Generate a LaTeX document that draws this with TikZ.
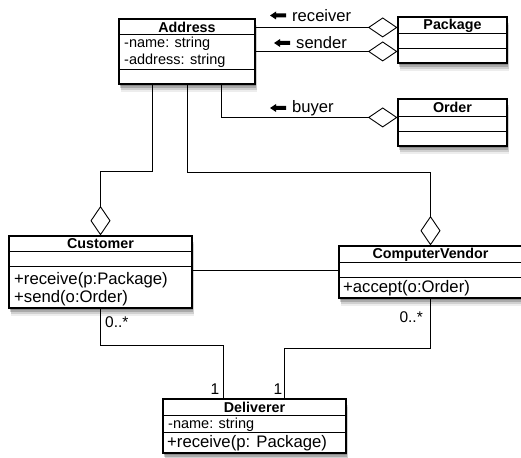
\documentclass[tikz,border=0pt]{standalone}
\usepackage{fontspec}
\setmainfont{Liberation Sans}
\usetikzlibrary{calc,arrows.meta,shadows}

\tikzset{
  softshadow/.style={
    drop shadow={shadow xshift=0.5pt, shadow yshift=-2pt, opacity=0.18, fill=black},
    drop shadow={shadow xshift=1pt, shadow yshift=-4pt, opacity=0.18, fill=black},
    drop shadow={shadow xshift=1.5pt, shadow yshift=-6pt, opacity=0.12, fill=black},
    drop shadow={shadow xshift=2pt, shadow yshift=-8pt, opacity=0.07, fill=black}},
  classbox/.style={draw, line width=1.1pt, fill=white, inner sep=0pt, softshadow},
  sepline/.style={line width=1.1pt},
  conn/.style={line width=0.9pt},
  aggr/.style={conn, -{Diamond[open, length=29.5pt, width=20pt, line width=0.9pt]}},
  title/.style={inner sep=0pt, font=\fontsize{14.3}{16}\selectfont\bfseries},
  attr/.style={inner sep=0pt, anchor=west, font=\fontsize{14.5}{16}\selectfont},
  oper/.style={inner sep=0pt, anchor=west, font=\fontsize{16.7}{18}\selectfont},
  role/.style={inner sep=0pt, anchor=west, font=\fontsize{16.6}{18}\selectfont},
  mult/.style={inner sep=0pt, font=\fontsize{15.5}{17}\selectfont},
}

% horizontal compartment separator at a given depth below the top edge
\newcommand\classsep[2]{\draw[sepline] ($(#1.north west)+(0,#2)$) -- ($(#1.north east)+(0,#2)$);}
% small black arrow drawn left of a role label
\newcommand\rolearrow[1]{\fill ($(#1.west)+(-22,0)$) -- ++(6,-4) -- ++(0,2) -- ++(10,0) -- ++(0,4) -- ++(-10,0) -- ++(0,2) -- cycle;}

\begin{document}
\begin{tikzpicture}[x=1pt, y=-1pt]
\useasboundingbox[fill=white] (0,0) rectangle (521,457);

% ---- classes ----
\node[classbox, minimum width=136pt, minimum height=65pt] (addr) at (187,51.5) {};
\classsep{addr}{16}
\classsep{addr}{51}
\node[title] at ($(addr.north)+(0,8.5)$) {Address};
\node[attr] at (124,44) {-name: string};
\node[attr] at (124,61) {-address: string};

\node[classbox, minimum width=109pt, minimum height=46pt] (pkg) at (452.5,40) {};
\classsep{pkg}{17}
\classsep{pkg}{32}
\node[title] at ($(pkg.north)+(0,9)$) {Package};

\node[classbox, minimum width=109pt, minimum height=47pt] (ord) at (452.5,122.5) {};
\classsep{ord}{18}
\classsep{ord}{33}
\node[title] at ($(ord.north)+(0,9)$) {Order};

\node[classbox, minimum width=183pt, minimum height=72pt] (cust) at (100.5,272) {};
\classsep{cust}{16}
\classsep{cust}{31}
\node[title] at ($(cust.north)+(0,8.5)$) {Customer};
\node[oper] at (14,280) {+receive(p:Package)};
\node[oper] at (14,298) {+send(o:Order)};

\node[classbox, minimum width=183pt, minimum height=52pt] (cv) at (430.5,272) {};
\classsep{cv}{17}
\classsep{cv}{32}
\node[title] at ($(cv.north)+(0,9)$) {ComputerVendor};
\node[oper] at (343,288) {+accept(o:Order)};

\node[classbox, minimum width=183pt, minimum height=54pt] (del) at (254.5,426) {};
\classsep{del}{17}
\classsep{del}{34}
\node[title] at ($(del.north)+(0,8.5)$) {Deliverer};
\node[attr] at (168,424.5) {-name: string};
\node[oper] at (167,443) {+receive(p: Package)};

% ---- aggregations towards Address ----
\draw[aggr] ($(addr.north east)+(0,9)$) -- ($(pkg.north west)+(0,11)$);
\draw[aggr] ($(addr.north east)+(0,33)$) -- ($(pkg.north west)+(0,35)$);
\draw[aggr] ($(addr.south east)+(-34,0)$) |- ($(ord.north west)+(0,19)$);
\draw[aggr] ($(addr.south west)+(34,0)$) -- ++(0,87) -| (cust.north);
\draw[aggr] (addr.south) -- ++(0,88) -| (cv.north);

% role labels
\node[role] (rrecv) at (292,15.5) {receiver};
\node[role] (rsend) at (296,43) {sender};
\node[role] (rbuy) at (292,108) {buyer};
\rolearrow{rrecv}
\rolearrow{rsend}
\rolearrow{rbuy}

% ---- associations ----
\draw[conn] ($(cust.north east)+(0,35)$) -- ($(cv.north west)+(0,25)$);
\draw[conn] (cust.south) -- ++(0,37) -| ($(del.north west)+(61,0)$);
\draw[conn] (cv.south) -- ++(0,50) -| ($(del.north west)+(122,0)$);

% multiplicities
\node[mult, anchor=west] (m1) at (105,322) {0..*};
\node[mult, anchor=east] (m2) at (423,317) {0..*};
\node[mult] (m3) at (215,389) {1};
\node[mult] (m4) at (278,389) {1};
\end{tikzpicture}
\end{document}
